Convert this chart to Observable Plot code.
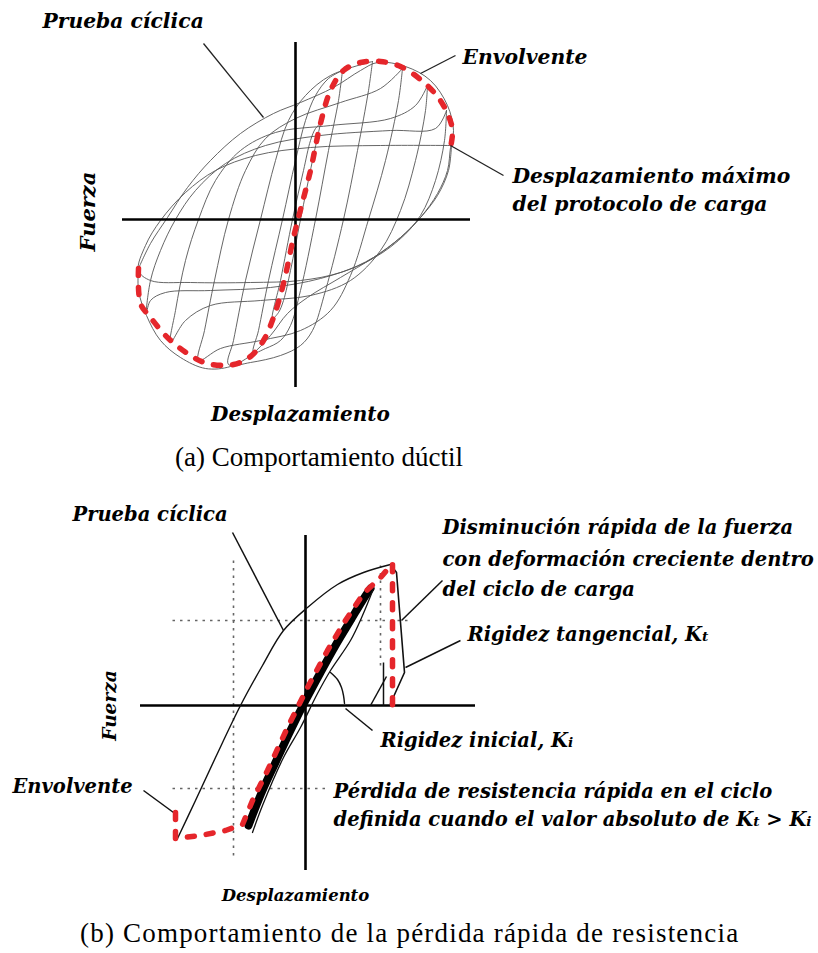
<!DOCTYPE html>
<html><head><meta charset="utf-8">
<script src="https://cdn.jsdelivr.net/npm/d3@7"></script>
<script src="https://cdn.jsdelivr.net/npm/@observablehq/plot@0.6"></script>
<style>
body{margin:0;background:#fff;width:818px;overflow:hidden;}
.cap{font-family:"Liberation Serif","Times New Roman",serif;font-size:27px;height:40px;line-height:40px;white-space:nowrap;color:#000;}
svg{display:block;}
</style></head><body>
<div id="a"></div><div class="cap" id="capA" style="padding-left:175px"></div>
<div id="b"></div><div class="cap" id="capB" style="padding-left:80px;letter-spacing:1.2px"></div>
<script>
// ---------- Panel (a): ductile behaviour (arbitrary units, origin at axis crossing) ----------
const envDispA  = [-157,-155,-145,-128,-108,-88,-62,-45,-32,-22,-12,-2,3,15,25,35,48,65,85,105,125,142,152,157,155];
const envForceA = [-49,-84,-98,-118,-134,-144,-145,-137,-121,-98,-64,-18,2,49,96,129,149,157,158,153,140,123,106,89,72];

const cyclesA = [
  [[25,96],[17,59],[5,0],[-5,-51],[-12,-81],[-17,-93],[-23,-99],[-15,-61],[-3,0],[8,49],[15,79],[20,91],[25,96]],
  [[47,149],[43,119],[33,69],[20,0],[5,-71],[-5,-106],[-15,-121],[-30,-129],[-42,-133],[-37,-111],[-27,-61],[-13,0],[0,59],[10,99],[20,124],[33,141],[47,149]],
  [[77,158],[73,129],[62,69],[48,0],[30,-71],[17,-111],[5,-126],[-15,-136],[-45,-143],[-67,-145],[-62,-121],[-50,-61],[-35,0],[-20,59],[-7,99],[10,124],[35,144],[77,158]],
  [[107,151],[103,119],[90,59],[73,0],[55,-56],[35,-91],[5,-111],[-35,-121],[-75,-129],[-97,-141],[-91,-111],[-81,-61],[-67,0],[-50,49],[-30,81],[0,101],[45,117],[85,131],[107,151]],
  [[132,134],[130,109],[120,59],[105,9],[85,-31],[55,-61],[15,-76],[-35,-81],[-85,-86],[-110,-101],[-125,-123],[-120,-91],[-110,-41],[-97,0],[-80,39],[-55,69],[-20,87],[35,94],[95,101],[120,114],[132,134]],
  [[151,109],[149,79],[140,39],[125,4],[103,-21],[70,-43],[25,-59],[-25,-68],[-85,-71],[-130,-73],[-145,-81],[-149,-93],[-145,-61],[-135,-31],[-120,0],[-100,29],[-70,56],[-30,74],[25,84],[95,89],[140,91],[151,109]],
  [[156,74],[153,49],[142,24],[125,2],[105,-18],[78,-38],[45,-53],[5,-61],[-45,-63],[-105,-63],[-145,-61],[-157,-51],[-150,-26],[-135,-1],[-110,27],[-80,49],[-40,64],[15,72],[85,74],[156,74]],
  [[-157,-49],[-145,-24],[-128,2],[-108,32],[-85,59],[-55,86],[-22,106],[5,117],[38,132],[65,149],[82,157],[110,153],[135,139],[152,114],[158,89],[155,72],[152,49],[142,26],[125,2],[105,-18],[78,-38],[45,-58],[12,-78],[-8,-94],[-25,-116],[-45,-136],[-65,-147],[-90,-149],[-115,-138],[-135,-121],[-149,-96],[-157,-71],[-157,-49]]
];

const axesA = {xMin:-173, xMax:175, yMin:-168, yMax:177};
const leadersA = [
  {x1:-92,y1:176,x2:-32,y2:102},
  {x1:125,y1:146,x2:160,y2:164},
  {x1:155,y1:74,x2:208,y2:44}
];
const labelsA = [
  {x:-253,y:192,text:"Prueba cíclica"},
  {x:167,y:156,text:"Envolvente"},
  {x:217,y:37,text:"Desplazamiento máximo"},
  {x:217,y:9,text:"del protocolo de carga"}
];
const axisLabelsA = {xText:"Desplazamiento", xPos:[5,-201], yText:"Fuerza", yPos:[-207,8]};
const captionA = "(a) Comportamiento dúctil";

// ---------- Panel (b): rapid strength loss ----------
const cycleArcB   = [[-128,-133],[-110,-95],[-90,-52],[-65,0],[-43,40],[-22,75],[2,98],[32,121],[58,133],[85,141]];
const cycleDropB  = [[85,141],[91,133],[99,33],[85,2]];
const bandCenterB = [[-57,-120],[-43,-85],[-30,-57],[-15,-25],[0,5],[15,33],[30,60],[45,85],[57,105],[65,117]];
const bandEdgeB   = [[-53,-127],[-43,-100],[-22,-52],[-5,-22],[12,12],[25,35],[45,65],[57,90],[68,117]];
const envDispB    = [-130,-130,-105,-80,-63,-53,-38,-18,2,22,38,58,75,87,87];
const envForceB   = [-107,-133,-130,-125,-119,-95,-65,-22,18,55,82,112,128,142,0];
const kiArcB      = [[25,33],[32,26],[36,18],[38,10],[39,2]];
const axesB = {xMin:-165, xMax:170, yMin:-165, yMax:170};
const leadersB = [
  {x1:-73,y1:173,x2:-22,y2:75},
  {x1:96,y1:85,x2:137,y2:125},
  {x1:100,y1:38,x2:155,y2:65},
  {x1:40,y1:-3,x2:67,y2:-25},
  {x1:-162,y1:-85,x2:-132,y2:-107},
  {x1:78,y1:43,x2:78,y2:0},
  {x1:65,y1:0,x2:81,y2:29}
];
const guidesB = [
  {x1:-72,y1:145,x2:-72,y2:-150},
  {x1:-133,y1:85,x2:105,y2:85},
  {x1:-133,y1:-83,x2:20,y2:-83},
  {x1:75,y1:140,x2:75,y2:40}
];
const labelsB = [
  {x:-233,y:185,text:"Prueba cíclica"},
  {x:137,y:172,text:"Disminución rápida de la fuerza"},
  {x:137,y:140,text:"con deformación creciente dentro"},
  {x:137,y:110,text:"del ciclo de carga"},
  {x:162,y:65,text:"Rigidez tangencial, Kt"},
  {x:75,y:-41,text:"Rigidez inicial, Ki"},
  {x:28,y:-92,text:"Pérdida de resistencia rápida en el ciclo"},
  {x:28,y:-120,text:"definida cuando el valor absoluto de Kt > Ki"},
  {x:-293,y:-87,text:"Envolvente"}
];
const axisLabelsB = {xText:"Desplazamiento", xPos:[-10,-195], yText:"Fuerza", yPos:[-195,0]};
const captionB = "(b) Comportamiento de la pérdida rápida de resistencia";

// ---------- rendering ----------
const RED = "#e5262b";
const lab = {fontFamily:"DejaVu Serif", fontWeight:"bold", fontStyle:"italic", fill:"#000"};

function toRows(pairs, id) { return pairs.map(([d,f]) => ({d, f, id})); }

const rowsA = cyclesA.flatMap((c,i) => toRows(c, i));
const envA = envDispA.map((d,i) => ({d, f: envForceA[i]}));

const plotA = Plot.plot({
  width: 818, height: 437, margin: 0,
  x: {domain: [-295, 523], axis: null},
  y: {domain: [-218, 219], axis: null},
  marks: [
    Plot.line(rowsA, {x:"d", y:"f", z:"id", stroke:"#555", strokeWidth:0.9, curve:"catmull-rom"}),
    Plot.ruleX([0], {y1: axesA.yMin, y2: axesA.yMax, stroke:"#000", strokeWidth:2.6}),
    Plot.ruleY([0], {x1: axesA.xMin, x2: axesA.xMax, stroke:"#000", strokeWidth:2.6}),
    Plot.line(envA, {x:"d", y:"f", stroke:RED, strokeWidth:5.5, strokeDasharray:"7,12", strokeLinecap:"round", curve:"catmull-rom"}),
    Plot.link(leadersA, {x1:"x1", y1:"y1", x2:"x2", y2:"y2", stroke:"#222", strokeWidth:1.3}),
    Plot.text(labelsA, {x:"x", y:"y", text:"text", textAnchor:"start", lineAnchor:"bottom", fontSize:20.3, ...lab}),
    Plot.text([axisLabelsA], {x: d => d.xPos[0], y: d => d.xPos[1], text:"xText", textAnchor:"middle", lineAnchor:"bottom", fontSize:20, ...lab}),
    Plot.text([axisLabelsA], {x: d => d.yPos[0], y: d => d.yPos[1], text:"yText", rotate:-90, textAnchor:"middle", lineAnchor:"middle", fontSize:21, ...lab})
  ]
});

const envB = envDispB.map((d,i) => ({d, f: envForceB[i]}));
const plotB = Plot.plot({
  width: 818, height: 436, margin: 0,
  x: {domain: [-305, 513], axis: null},
  y: {domain: [-208, 228], axis: null},
  marks: [
    Plot.link(guidesB, {x1:"x1", y1:"y1", x2:"x2", y2:"y2", stroke:"#666", strokeWidth:1.6, strokeDasharray:"2.5,5"}),
    Plot.ruleX([0], {y1: axesB.yMin, y2: axesB.yMax, stroke:"#000", strokeWidth:2.6}),
    Plot.ruleY([0], {x1: axesB.xMin, x2: axesB.xMax, stroke:"#000", strokeWidth:2.6}),
    Plot.line(toRows(cycleArcB, 0), {x:"d", y:"f", stroke:"#111", strokeWidth:1.4, curve:"catmull-rom"}),
    Plot.line(toRows(cycleDropB, 0), {x:"d", y:"f", stroke:"#111", strokeWidth:1.6}),
    Plot.line(toRows(bandCenterB, 0), {x:"d", y:"f", stroke:"#000", strokeWidth:8, curve:"catmull-rom"}),
    Plot.line(toRows(bandEdgeB, 0), {x:"d", y:"f", stroke:"#111", strokeWidth:1.3, curve:"catmull-rom"}),
    Plot.line(toRows(kiArcB, 0), {x:"d", y:"f", stroke:"#111", strokeWidth:1.4, curve:"catmull-rom"}),
    Plot.link(leadersB, {x1:"x1", y1:"y1", x2:"x2", y2:"y2", stroke:"#111", strokeWidth:1.5}),
    Plot.line(envB, {x:"d", y:"f", stroke:RED, strokeWidth:5.5, strokeDasharray:"7,12", strokeLinecap:"round"}),
    Plot.text(labelsB, {x:"x", y:"y", text:"text", textAnchor:"start", lineAnchor:"bottom", fontSize:19.5, ...lab}),
    Plot.text([axisLabelsB], {x: d => d.xPos[0], y: d => d.xPos[1], text:"xText", textAnchor:"middle", lineAnchor:"bottom", fontSize:16.5, ...lab}),
    Plot.text([axisLabelsB], {x: d => d.yPos[0], y: d => d.yPos[1], text:"yText", rotate:-90, textAnchor:"middle", lineAnchor:"middle", fontSize:18.5, ...lab})
  ]
});

// subscripts for stiffness symbols (Kt, Ki)
function subscripts(svg) {
  svg.querySelectorAll("text").forEach(t => {
    const s = t.textContent;
    if (!/K[ti]/.test(s)) return;
    t.textContent = "";
    s.split(/(K[ti])/).forEach(p => {
      if (/^K[ti]$/.test(p)) {
        t.appendChild(document.createTextNode("K"));
        const ts = document.createElementNS("http://www.w3.org/2000/svg", "tspan");
        ts.setAttribute("font-size", "70%");
        ts.textContent = p[1];
        t.appendChild(ts);
      } else if (p) t.appendChild(document.createTextNode(p));
    });
  });
}
subscripts(plotB);

document.getElementById("a").appendChild(plotA);
document.getElementById("b").appendChild(plotB);
document.getElementById("capA").textContent = captionA;
document.getElementById("capB").textContent = captionB;
</script></body></html>
